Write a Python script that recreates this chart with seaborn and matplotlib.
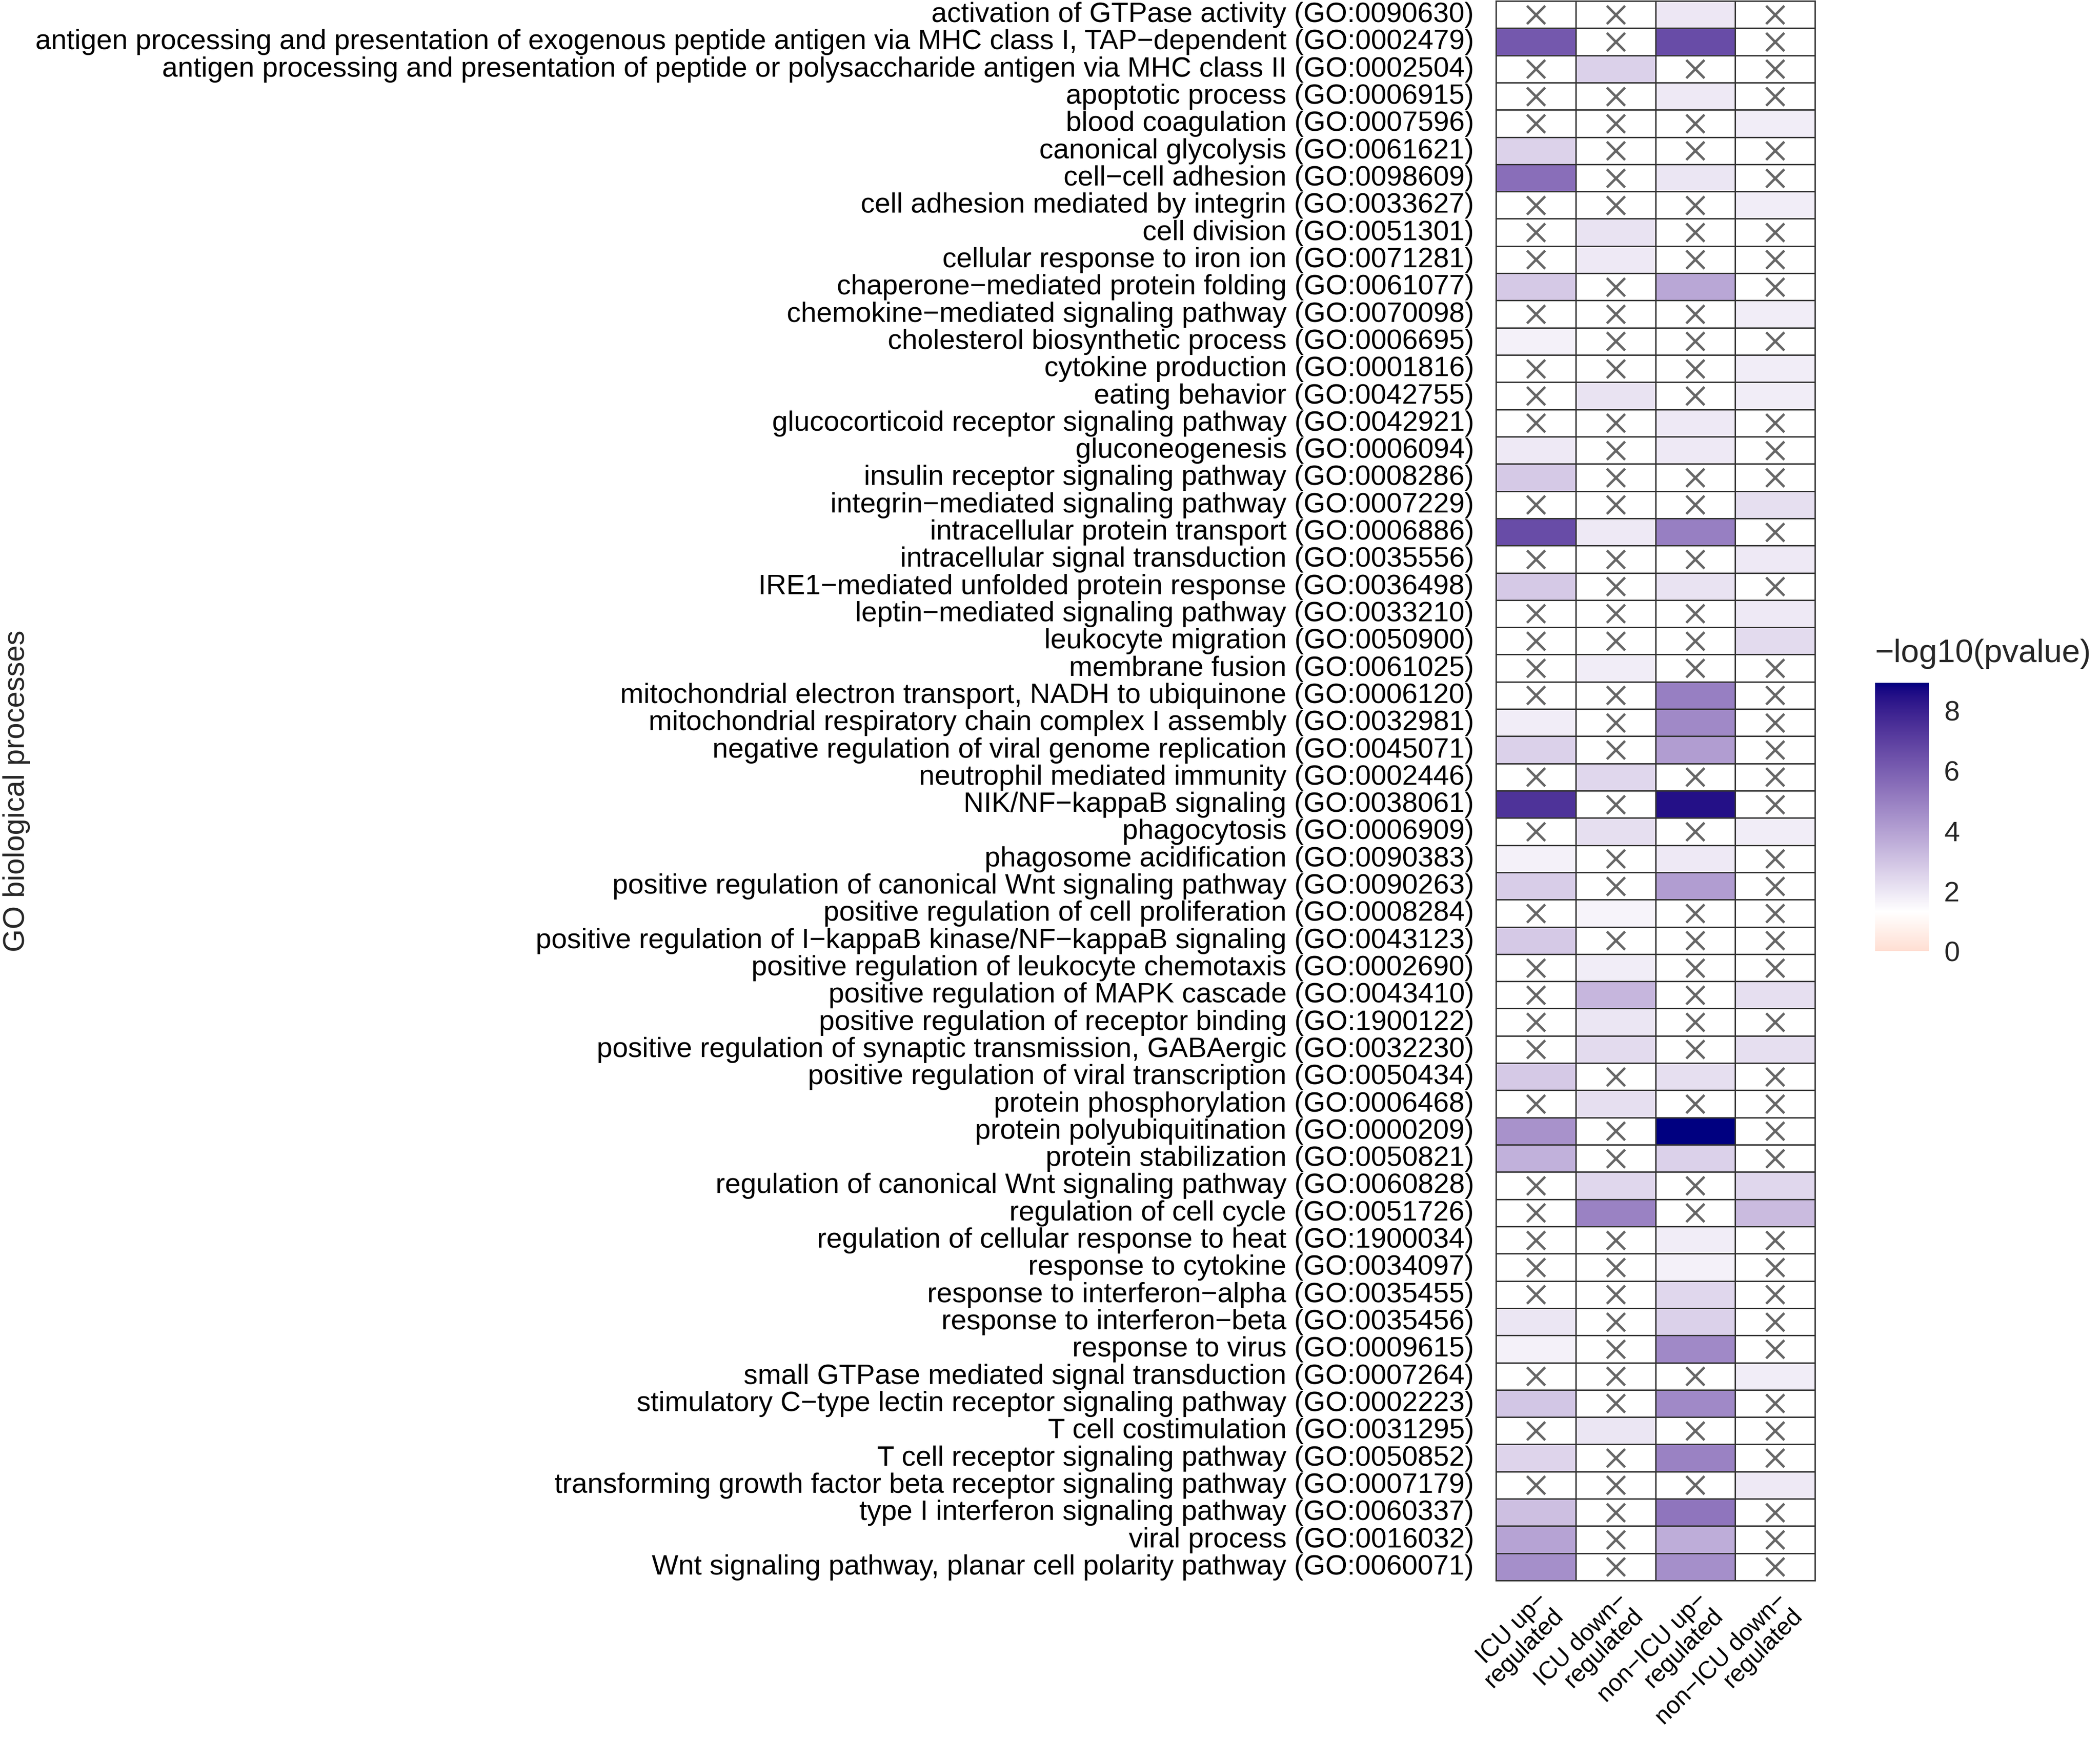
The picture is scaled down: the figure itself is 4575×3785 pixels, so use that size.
import numpy as np
import pandas as pd
import matplotlib
matplotlib.use("Agg")
import matplotlib.pyplot as plt
import seaborn as sns
from matplotlib.colors import ListedColormap, to_rgb

# GO terms (rows of the heatmap)
go_terms = [
    "activation of GTPase activity (GO:0090630)",
    "antigen processing and presentation of exogenous peptide antigen via MHC class I, TAP\u2212dependent (GO:0002479)",
    "antigen processing and presentation of peptide or polysaccharide antigen via MHC class II (GO:0002504)",
    "apoptotic process (GO:0006915)",
    "blood coagulation (GO:0007596)",
    "canonical glycolysis (GO:0061621)",
    "cell\u2212cell adhesion (GO:0098609)",
    "cell adhesion mediated by integrin (GO:0033627)",
    "cell division (GO:0051301)",
    "cellular response to iron ion (GO:0071281)",
    "chaperone\u2212mediated protein folding (GO:0061077)",
    "chemokine\u2212mediated signaling pathway (GO:0070098)",
    "cholesterol biosynthetic process (GO:0006695)",
    "cytokine production (GO:0001816)",
    "eating behavior (GO:0042755)",
    "glucocorticoid receptor signaling pathway (GO:0042921)",
    "gluconeogenesis (GO:0006094)",
    "insulin receptor signaling pathway (GO:0008286)",
    "integrin\u2212mediated signaling pathway (GO:0007229)",
    "intracellular protein transport (GO:0006886)",
    "intracellular signal transduction (GO:0035556)",
    "IRE1\u2212mediated unfolded protein response (GO:0036498)",
    "leptin\u2212mediated signaling pathway (GO:0033210)",
    "leukocyte migration (GO:0050900)",
    "membrane fusion (GO:0061025)",
    "mitochondrial electron transport, NADH to ubiquinone (GO:0006120)",
    "mitochondrial respiratory chain complex I assembly (GO:0032981)",
    "negative regulation of viral genome replication (GO:0045071)",
    "neutrophil mediated immunity (GO:0002446)",
    "NIK/NF\u2212kappaB signaling (GO:0038061)",
    "phagocytosis (GO:0006909)",
    "phagosome acidification (GO:0090383)",
    "positive regulation of canonical Wnt signaling pathway (GO:0090263)",
    "positive regulation of cell proliferation (GO:0008284)",
    "positive regulation of I\u2212kappaB kinase/NF\u2212kappaB signaling (GO:0043123)",
    "positive regulation of leukocyte chemotaxis (GO:0002690)",
    "positive regulation of MAPK cascade (GO:0043410)",
    "positive regulation of receptor binding (GO:1900122)",
    "positive regulation of synaptic transmission, GABAergic (GO:0032230)",
    "positive regulation of viral transcription (GO:0050434)",
    "protein phosphorylation (GO:0006468)",
    "protein polyubiquitination (GO:0000209)",
    "protein stabilization (GO:0050821)",
    "regulation of canonical Wnt signaling pathway (GO:0060828)",
    "regulation of cell cycle (GO:0051726)",
    "regulation of cellular response to heat (GO:1900034)",
    "response to cytokine (GO:0034097)",
    "response to interferon\u2212alpha (GO:0035455)",
    "response to interferon\u2212beta (GO:0035456)",
    "response to virus (GO:0009615)",
    "small GTPase mediated signal transduction (GO:0007264)",
    "stimulatory C\u2212type lectin receptor signaling pathway (GO:0002223)",
    "T cell costimulation (GO:0031295)",
    "T cell receptor signaling pathway (GO:0050852)",
    "transforming growth factor beta receptor signaling pathway (GO:0007179)",
    "type I interferon signaling pathway (GO:0060337)",
    "viral process (GO:0016032)",
    "Wnt signaling pathway, planar cell polarity pathway (GO:0060071)",
]

groups = [
    "ICU up\u2212\nregulated",
    "ICU down\u2212\nregulated",
    "non\u2212ICU up\u2212\nregulated",
    "non\u2212ICU down\u2212\nregulated",
]

N = np.nan
# -log10(pvalue) per group, NaN = not enriched (drawn with a cross)
icu_up = [N, 6.2, N, N, N, 2.55, 5.5, N, N, N,
          2.8, N, 1.7, N, N, N, 1.9, 2.8, N, 6.6,
          N, 2.8, N, N, N, N, 1.8, 2.6, N, 7.4,
          N, 1.7, 2.7, N, 2.8, N, N, N, N, 2.8,
          N, 4.4, 3.5, N, N, N, N, N, 2.0, 1.7,
          N, 2.9, N, 2.5, N, 3.1, 3.9, 4.5]
icu_down = [N, N, 2.6, N, N, N, N, N, 2.1, 1.9,
            N, N, N, N, 2.1, N, N, N, N, 1.9,
            N, N, N, N, 1.8, N, N, N, 2.4, N,
            2.2, N, N, 1.6, N, 1.8, 3.35, 2.0, 2.3, N,
            2.2, N, N, 2.4, 4.9, N, N, N, N, N,
            N, N, 2.0, N, N, N, N, N]
nonicu_up = [1.95, 6.6, N, 1.9, N, N, 2.0, N, N, N,
             3.8, N, N, N, N, 1.9, 1.9, N, N, 5.0,
             N, 2.1, N, N, N, 5.0, 4.7, 4.1, N, 8.45,
             N, 1.9, 4.1, N, N, N, N, N, N, 2.2,
             N, 8.9, 2.6, N, N, 1.8, 1.7, 2.4, 2.6, 4.7,
             N, 4.7, N, 4.9, N, 5.3, 3.6, 4.5]
nonicu_down = [N, N, N, N, 1.8, N, N, 1.8, N, N,
               N, 1.8, N, 1.8, 1.8, N, N, N, 2.2, N,
               1.9, N, 1.9, 2.3, N, N, N, N, N, N,
               1.8, N, N, N, N, N, 2.2, N, 2.2, N,
               N, N, N, 2.4, 3.2, N, N, N, N, N,
               1.8, N, N, N, 1.9, N, N, N]

VMIN, VMID, VMAX = 0.0, 1.3, 8.9
W, H, DPI = 4575, 3786, 300
FS = 14.7


def rgb_to_lab(rgb):
    c = np.asarray(rgb, float)
    lin = np.where(c <= 0.04045, c / 12.92, ((c + 0.055) / 1.055) ** 2.4)
    xyz = lin @ M_RGB2XYZ.T / WHITE
    d = 6 / 29
    f = np.where(xyz > d ** 3, np.cbrt(xyz), xyz / (3 * d ** 2) + 4 / 29)
    return np.stack([116 * f[..., 1] - 16,
                     500 * (f[..., 0] - f[..., 1]),
                     200 * (f[..., 1] - f[..., 2])], -1)


def lab_to_rgb(lab):
    fy = (lab[..., 0] + 16) / 116
    f = np.stack([fy + lab[..., 1] / 500, fy, fy - lab[..., 2] / 200], -1)
    d = 6 / 29
    xyz = np.where(f > d, f ** 3, 3 * d ** 2 * (f - 4 / 29)) * WHITE
    lin = np.clip(xyz @ np.linalg.inv(M_RGB2XYZ).T, 0, 1)
    c = np.where(lin <= 0.0031308, 12.92 * lin, 1.055 * lin ** (1 / 2.4) - 0.055)
    return np.clip(c, 0, 1)


M_RGB2XYZ = np.array([[0.4124564, 0.3575761, 0.1804375],
                      [0.2126729, 0.7151522, 0.0721750],
                      [0.0193339, 0.1191920, 0.9503041]])
WHITE = np.array([0.95047, 1.0, 1.08883])

# diverging low(red) - mid(white) - high(navy), interpolated in Lab
lab_low, lab_mid, lab_high = (rgb_to_lab(to_rgb(c)) for c in ("red", "white", "navy"))
vals = np.linspace(VMIN, VMAX, 512)
span = max(VMAX - VMID, VMID - VMIN)
t = ((vals - VMID) / span)[:, None]
lab = np.where(t >= 0, lab_mid + t * (lab_high - lab_mid), lab_mid - t * (lab_low - lab_mid))
cmap = ListedColormap(lab_to_rgb(lab))

df = pd.DataFrame({groups[0]: icu_up, groups[1]: icu_down,
                   groups[2]: nonicu_up, groups[3]: nonicu_down}, index=go_terms)

sns.set_style("white")
plt.rcParams["font.family"] = ["Liberation Sans", "DejaVu Sans"]

fig = plt.figure(figsize=(W / DPI, H / DPI), dpi=DPI)
ax = fig.add_axes([3259 / W, 1 - 3443 / H, 695 / W, 3440 / H])
cax = fig.add_axes([4085 / W, 1 - 2072 / H, 117 / W, 584 / H])

sns.heatmap(df, ax=ax, cmap=cmap, vmin=VMIN, vmax=VMAX, cbar=True, cbar_ax=cax,
            linewidths=0.7, linecolor="#333333", xticklabels=True, yticklabels=True)

# crosses on non-significant cells
rows, cols = np.where(df.isna().values)
ax.scatter(cols + 0.5, rows + 0.5, marker="x", s=90, color="#666666", linewidths=1.3, zorder=3)

for side in ax.spines.values():
    side.set_visible(True)
    side.set_linewidth(0.7)
    side.set_color("#333333")

ax.tick_params(axis="both", length=0, labelcolor="black")
ax.tick_params(axis="y", pad=11.5, labelsize=FS)
ax.tick_params(axis="x", pad=4, labelsize=12.7)
plt.setp(ax.get_yticklabels(), rotation=0, ha="right", va="center")
plt.setp(ax.get_xticklabels(), rotation=45, ha="right", va="top",
         rotation_mode="anchor", linespacing=0.95)
ax.set_xlabel("")
ax.set_ylabel("GO biological processes", fontsize=15.5)
ax.yaxis.set_label_coords((66 - 3259) / 695, 0.5)

cbar = ax.collections[0].colorbar
cbar.outline.set_visible(False)
cbar.set_ticks([0, 2, 4, 6, 8])
cax.tick_params(direction="in", length=5.5, width=0.8, color="white",
                left=True, right=True, labelsize=FS, pad=8)
cax.set_title("\u2212log10(pvalue)", loc="left", fontsize=17.0, pad=11)

fig.savefig("out.png", dpi=DPI)
